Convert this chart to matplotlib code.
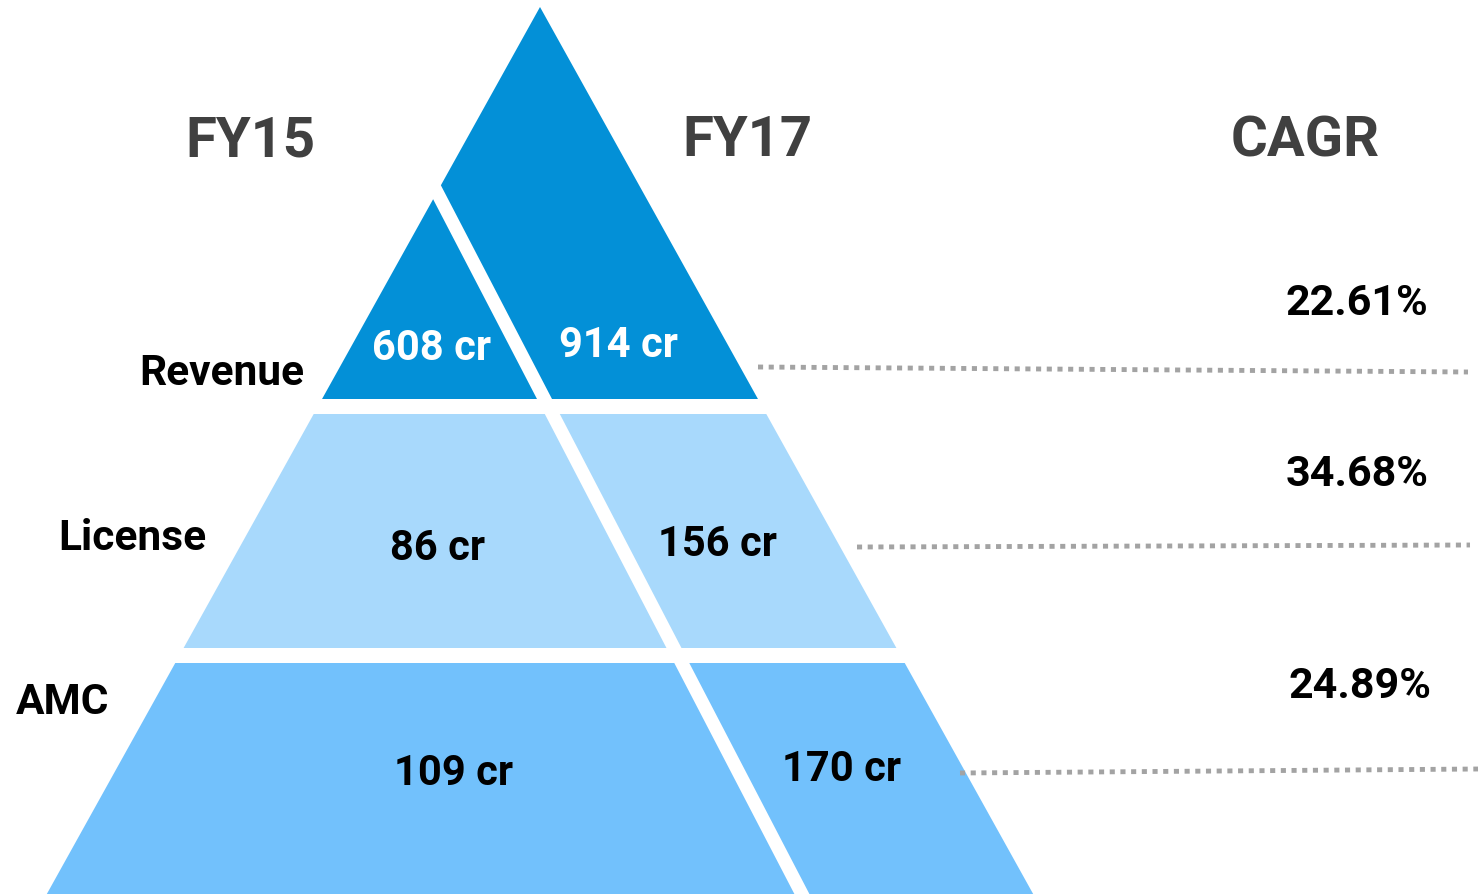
import numpy as np
import matplotlib.pyplot as plt

# segment values (crore) and growth
categories = ["Revenue", "License", "AMC"]
fy15 = [608, 86, 109]
fy17 = [914, 156, 170]
cagr = [22.61, 34.68, 24.89]
years = ["FY15", "FY17"]

band_colors = ["#0390D7", "#A8D9FC", "#72C1FC"]
value_colors = ["white", "black", "black"]

# pyramid geometry in pixel coordinates (y grows downwards)
apex_x, apex_y = 540, 8
half_slope = 0.556          # half width per pixel of height
bands = [(apex_y, 400), (415, 649), (664, 895)]
div_x0, div_y0, div_slope, div_gap = 544.5, 400, 0.52, 15


def edge_left(y):
    return apex_x - half_slope * (y - apex_y)


def edge_right(y):
    return apex_x + half_slope * (y - apex_y)


def divider(y):
    return div_x0 + div_slope * (y - div_y0)


fig = plt.figure(figsize=(14.81, 8.95), dpi=100)
ax = fig.add_axes([0, 0, 1, 1])
ax.set_xlim(0, 1481)
ax.set_ylim(895, 0)
ax.axis("off")

# bands of the pyramid
for (y0, y1), c in zip(bands, band_colors):
    xs = [edge_left(y0), edge_right(y0), edge_right(y1), edge_left(y1)]
    ys = [y0, y0, y1, y1]
    ax.fill(xs, ys, color=c, lw=0)

# white slanted cut splitting FY15 (left) from FY17 (right)
g = div_gap / 2
ax.fill([divider(0) - g, divider(0) + g, divider(895) + g, divider(895) - g],
        [0, 0, 895, 895], color="white", lw=0)

font = "Roboto"
head_color = "#404040"

ax.text(250, 141, years[0], ha="center", va="center", fontsize=40.5,
        fontweight="bold", family=font, color=head_color)
ax.text(747, 141, years[1], ha="center", va="center", fontsize=40.5,
        fontweight="bold", family=font, color=head_color)
ax.text(1305, 141, "CAGR", ha="center", va="center", fontsize=40.5,
        fontweight="bold", family=font, color=head_color)

# row labels
label_pos = [(304, 373, "right"), (132, 538, "center"), (63, 702, "center")]
for name, (x, y, ha) in zip(categories, label_pos):
    ax.text(x, y, name, ha=ha, va="center", fontsize=30.5, fontweight="bold",
            family=font, color="black")

# values inside the pyramid
fy15_pos = [(432, 348), (438, 549), (453, 774)]
fy17_pos = [(618, 345), (717, 545), (842, 770)]
for v15, v17, p15, p17, tc in zip(fy15, fy17, fy15_pos, fy17_pos, value_colors):
    ax.text(p15[0], p15[1], f"{v15} cr", ha="center", va="center", fontsize=30,
            fontweight="bold", family=font, color=tc)
    ax.text(p17[0], p17[1], f"{v17} cr", ha="center", va="center", fontsize=30,
            fontweight="bold", family=font, color=tc)

# growth figures with dotted leader lines
cagr_pos = [(1357, 303), (1357, 474), (1360, 687)]
leaders = [((758, 1468), (368, 373)), ((857, 1470), (548, 546)),
           ((960, 1478), (774, 770))]
for val, (x, y), (lx, ly) in zip(cagr, cagr_pos, leaders):
    ax.text(x, y, f"{val:.2f}%", ha="center", va="center", fontsize=31,
            fontweight="bold", family=font, color="black")
    ax.plot(lx, ly, color="#A3A3A3", lw=3.5, linestyle=(0, (1.05, 1.15)),
            dash_capstyle="butt")

fig.savefig("out.png", dpi=100)
